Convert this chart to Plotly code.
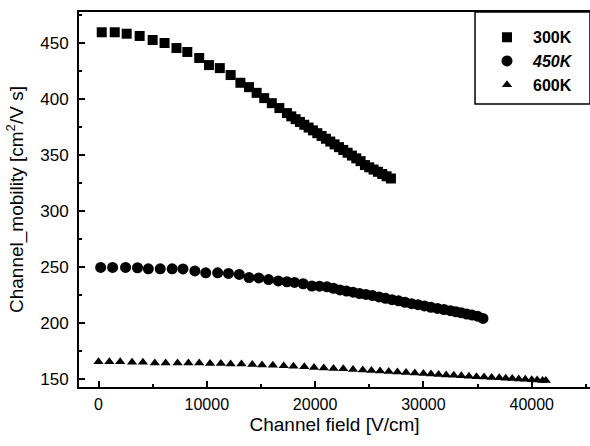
import plotly.graph_objects as go

# ---- data ----
x300 = [300, 1500, 2600, 3800, 5000, 6100, 7200, 8200, 9300, 10200, 11200, 12200, 13100, 13900,
        14600, 15300, 16000, 16700, 17400, 17800, 18200, 18600, 19000, 19400, 19800, 20200, 20600,
        21000, 21400, 21800, 22200, 22600, 23000, 23400, 23800, 24200, 24600, 25000, 25400, 25800,
        26200, 26600, 27000]
y300 = [459.6, 459.6, 458.3, 456.3, 452.7, 450.0, 445.5, 442.0, 436.6, 430.3, 427.6, 421.4, 414.5, 410.6,
        405.5, 400.8, 396.3, 391.9, 387.4, 384.5, 382.0, 379.5, 377.0, 374.5, 372.0, 369.5, 367.0,
        364.5, 362.0, 359.5, 357.0, 354.5, 352.0, 349.5, 347.0, 344.5, 341.0, 339.0, 337.0, 335.0,
        333.0, 331.0, 329.0]

x450 = [200, 1300, 2500, 3600, 4600, 5700, 6800, 7800, 8900, 9900, 11000, 12000, 13000, 13900,
        14800, 15700, 16600, 17400, 18100, 18900, 19700, 20400, 21100, 21700, 22300, 22900, 23500,
        24100, 24700, 25300, 25900, 26500, 27100, 27700, 28300, 28900, 29500, 30100, 30700, 31300,
        31900, 32500, 33000, 33500, 34000, 34500, 35000, 35500]
y450 = [249.6, 249.6, 249.6, 249.3, 248.3, 248.3, 248.3, 248.2, 246.5, 244.8, 244.8, 244.2, 243.3, 240.5,
        240.2, 238.7, 237.5, 236.8, 236.2, 235.0, 233.0, 232.8, 232.3, 231.0, 229.5, 228.5, 227.5,
        226.3, 225.5, 224.5, 223.2, 222.0, 220.8, 219.8, 218.5, 217.2, 216.3, 215.2, 214.0, 213.0,
        212.0, 211.0, 210.0, 209.0, 208.0, 207.0, 206.0, 204.0]

x600 = [0, 1000, 2000, 3100, 4100, 5200, 6200, 7300, 8300, 9300, 10300, 11300, 12200, 13200,
        14200, 15100, 16100, 17100, 18000, 19000, 19900, 20800, 21700, 22600, 23500, 24400, 25200,
        26000, 26800, 27600, 28400, 29200, 30000, 30700, 31400, 32100, 32800, 33500, 34200, 34900,
        35600, 36300, 37000, 37600, 38200, 38800, 39400, 40000, 40500, 41000, 41300]
y600 = [165.3, 165.3, 165.3, 165.0, 165.0, 164.3, 164.3, 164.3, 164.3, 164.3, 163.7, 163.7, 163.3, 163.3,
        163.0, 162.5, 162.3, 161.8, 161.3, 160.8, 160.2, 159.8, 159.3, 159.0, 158.5, 158.0, 157.5,
        157.0, 156.6, 156.2, 155.8, 155.3, 154.8, 154.4, 154.0, 153.6, 153.2, 152.8, 152.4, 152.0,
        151.7, 151.3, 151.0, 150.6, 150.3, 150.0, 149.7, 149.3, 149.0, 148.7, 148.5]

series_names = ["<b>300K</b>", "<b><i>450K</i></b>", "<b>600K</b>"]
x_ticks = [0, 10000, 20000, 30000, 40000]
y_ticks = [150, 200, 250, 300, 350, 400, 450]

FONT = "Arial, Liberation Sans, sans-serif"

fig = go.Figure()
fig.add_trace(go.Scatter(x=x300, y=y300, mode="markers", name=series_names[0],
                         marker=dict(symbol="square", size=10, color="black")))
fig.add_trace(go.Scatter(x=x450, y=y450, mode="markers", name=series_names[1],
                         marker=dict(symbol="circle", size=11, color="black")))
fig.add_trace(go.Scatter(x=x600, y=y600, mode="markers", name=series_names[2],
                         marker=dict(symbol="triangle-up", size=9, color="black")))

fig.update_layout(
    width=590, height=446,
    margin=dict(l=79, r=0, t=12, b=59),
    paper_bgcolor="white", plot_bgcolor="white",
    font=dict(family=FONT, color="black", size=16),
    showlegend=True,
    legend=dict(x=0.7867, xanchor="left", y=0.978, yanchor="top",
                bgcolor="rgba(0,0,0,0)", borderwidth=0,
                font=dict(family=FONT, size=16, color="black"),
                itemwidth=42, tracegroupgap=0),
    shapes=[dict(type="rect", xref="paper", yref="paper", x0=0.775, x1=1.0, y0=0.755, y1=1.0,
                 line=dict(color="black", width=1.5), fillcolor="rgba(0,0,0,0)")],
)

fig.update_xaxes(
    range=[-1800, 45380], tickvals=x_ticks, ticktext=[str(v) for v in x_ticks],
    showgrid=False, zeroline=False,
    showline=True, linecolor="black", linewidth=2, mirror=True,
    ticks="inside", ticklen=6, tickwidth=2, tickcolor="black",
    minor=dict(dtick=5000, tick0=0, ticks="inside", ticklen=3, tickwidth=2, tickcolor="black", showgrid=False),
    tickfont=dict(family=FONT, size=16), ticklabelstandoff=2,
    title=dict(text="Channel field [V/cm]", font=dict(family=FONT, size=19), standoff=5),
)
fig.update_yaxes(
    range=[142.8, 477.7], tickvals=y_ticks, ticktext=[str(v) for v in y_ticks],
    showgrid=False, zeroline=False,
    showline=True, linecolor="black", linewidth=2, mirror=False,
    ticks="inside", ticklen=6, tickwidth=2, tickcolor="black",
    minor=dict(dtick=25, tick0=150, ticks="inside", ticklen=3, tickwidth=2, tickcolor="black", showgrid=False),
    tickfont=dict(family=FONT, size=17), ticklabelstandoff=5,
    title=dict(text="Channel_mobility [cm<sup>2</sup>/V s]", font=dict(family=FONT, size=19), standoff=12),
)

fig.write_html("out.html")
